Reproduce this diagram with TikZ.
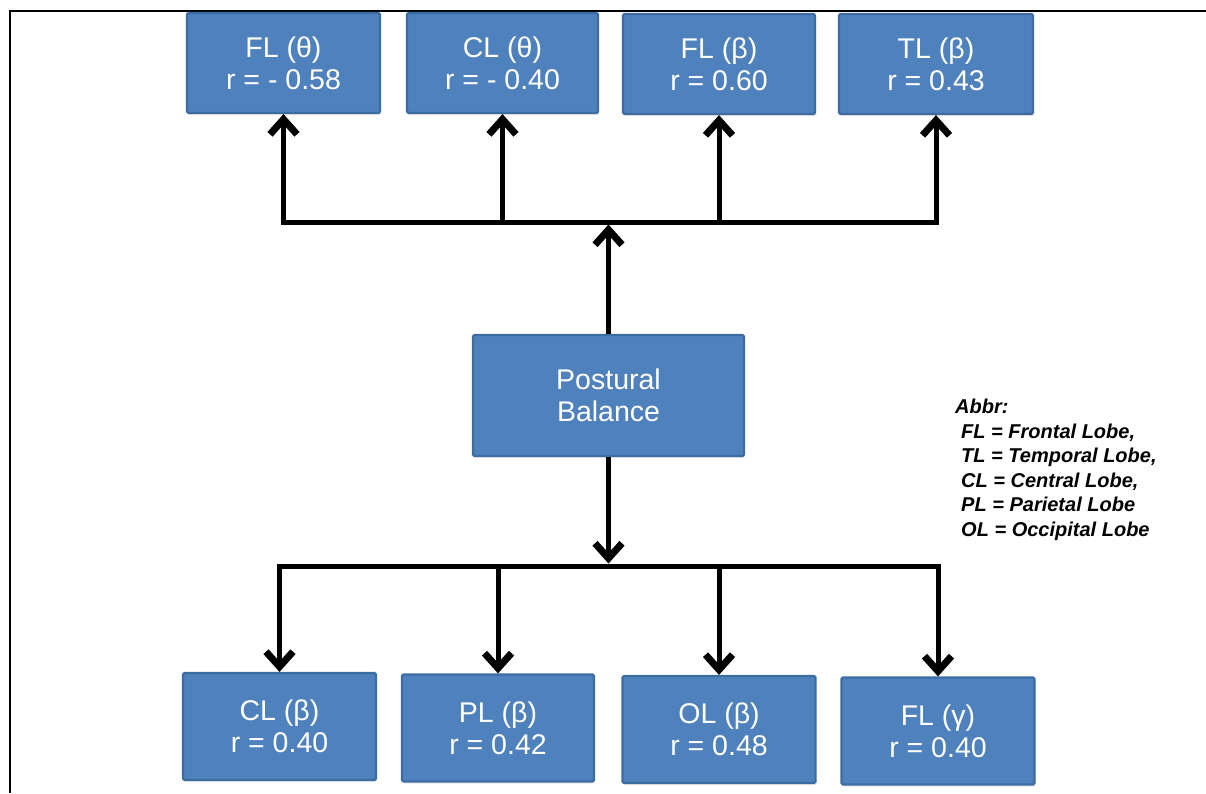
\documentclass[tikz,border=0pt]{standalone}
\usepackage{fontspec}
\setmainfont{Liberation Sans}
\usetikzlibrary{arrows.meta,shadows}
\definecolor{boxfill}{HTML}{4F81BD}
\definecolor{boxedge}{HTML}{3D6CA3}
\begin{document}
\begin{tikzpicture}[x=1pt,y=-1pt,
  lobe/.style={draw=boxedge, line width=2.2pt, fill=boxfill, rounded corners=1.5pt,
    text=white, align=center, inner sep=0pt,
    font=\fontsize{28.5}{32}\selectfont,
    drop shadow={shadow xshift=1pt, shadow yshift=-2pt, opacity=0.18}},
  toprow/.style={lobe, minimum height=100pt},
  botrow/.style={lobe, minimum height=107pt},
  link/.style={line width=5pt, draw=black},
  bus/.style={link, line cap=rect},
  head/.style={link, -{Straight Barb[length=15pt,width=27pt,line width'=7pt]}},
]
\useasboundingbox (0,0) rectangle (1206,793);

% open frame (left and top edges)
\draw[line width=2.6pt] (10,793) -- (10,11) -- (1206,11);

% upper row of lobes
\node[toprow, minimum width=193pt] (t1) at (283.5,63) {FL (θ)\\r = - 0.58};
\node[toprow, minimum width=191pt] (t2) at (502.5,63) {CL (θ)\\r = - 0.40};
\node[toprow, minimum width=192pt] (t3) at (719,64) {FL (β)\\r = 0.60};
\node[toprow, minimum width=194pt] (t4) at (936,64) {TL (β)\\r = 0.43};

% central node
\node[lobe, minimum width=271pt, minimum height=121pt] (pb) at (608.5,395.5) {Postural\\Balance};

% lower row of lobes
\node[botrow, minimum width=193pt] (b1) at (279.5,726.5) {CL (β)\\r = 0.40};
\node[botrow, minimum width=192pt] (b2) at (498,728) {PL (β)\\r = 0.42};
\node[botrow, minimum width=193pt] (b3) at (719,729.5) {OL (β)\\r = 0.48};
\node[botrow, minimum width=193pt] (b4) at (938,731) {FL (γ)\\r = 0.40};

% bus levels
\coordinate (topbus) at (0,222);
\coordinate (botbus) at (0,566);

% upper tree
\draw[bus] (t1.south |- topbus) -- (t4.south |- topbus);
\draw[head, shorten >=2.5pt] (pb.north) -- (pb.north |- topbus);
\foreach \n in {t1,t2,t3,t4}
  \draw[head] (\n.south |- topbus) -- (\n.south);

% lower tree
\draw[head, shorten >=2.5pt] (pb.south) -- (pb.south |- botbus);
\draw[bus] (b1.north |- botbus) -- (b4.north |- botbus);
\foreach \n in {b1,b2,b3,b4}
  \draw[head] (\n.north |- botbus) -- (\n.north);

% abbreviations
\node[anchor=north west, align=left, inner sep=0pt,
  font=\fontsize{20}{24.5}\selectfont\bfseries\itshape] (abbr) at (955,399)
  {Abbr:\\
   \hspace*{6pt}FL = Frontal Lobe,\\
   \hspace*{6pt}TL = Temporal Lobe,\\
   \hspace*{6pt}CL = Central Lobe,\\
   \hspace*{6pt}PL = Parietal Lobe\\
   \hspace*{6pt}OL = Occipital Lobe};
\end{tikzpicture}
\end{document}
